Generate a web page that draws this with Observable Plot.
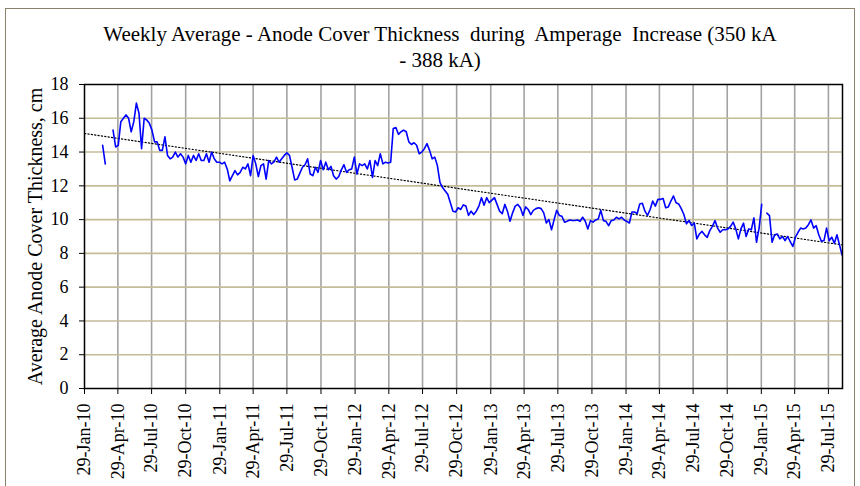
<!DOCTYPE html>
<html>
<head>
<meta charset="utf-8">
<script src="https://cdn.jsdelivr.net/npm/d3@7"></script>
<script src="https://cdn.jsdelivr.net/npm/@observablehq/plot@0.6"></script>
<style>
  body { margin: 0; background: #fff; }
  #wrap { position: relative; width: 860px; height: 486px; overflow: hidden; background: #fff; }
  #border { position: absolute; left: 5px; top: 8px; width: 850px; height: 520px; border: 1.5px solid #8a826c; box-sizing: border-box; pointer-events: none; }
  #title { position: relative; height: 70px; box-sizing: border-box; padding-top: 21px; padding-left: 20px;
           text-align: center; font-family: "Liberation Serif", "Times New Roman", serif; font-size: 21px;
           line-height: 26px; color: #000; white-space: pre; }
  #chart svg { display: block; }
</style>
</head>
<body>
<div id="wrap">
  <div id="border"></div>
  <div id="title">Weekly Average - Anode Cover Thickness  during  Amperage  Increase (350 kA
- 388 kA)</div>
  <div id="chart"></div>
</div>
<script>
// Weekly series start date (first weekly point) and values
const startDate = "2010-03-19";
const thickness = [
  14.4, 13.3, null, null, 15.3, 14.3, 14.4, 15.8, 16.0, 16.2,
  16.0, 15.2, 15.8, 16.9, 16.3, 14.2, 16.0, 15.9, 15.7, 15.3,
  14.6, 14.6, 14.1, 14.1, 14.9, 13.8, 13.6, 13.7, 14.0, 13.7,
  13.9, 13.7, 13.3, 13.8, 13.4, 13.8, 13.5, 13.9, 13.5, 13.5,
  13.9, 13.4, 14.0, 13.6, 13.4, 13.4, 13.3, 13.4, 13.0, 12.3,
  12.6, 12.9, 12.65, 12.8, 13.1, 13.0, 13.3, 12.6, 13.8, 13.3,
  12.55, 13.2, 13.3, 12.4, 13.5, 13.3, 13.4, 13.7, 13.4, 13.6,
  13.8, 13.95, 13.8, 13.1, 12.35, 12.4, 12.75, 13.1, 13.25, 13.6,
  12.7, 12.6, 13.1, 12.8, 13.5, 12.95, 13.4, 12.95, 13.15, 12.6,
  12.4, 12.55, 12.95, 13.25, 12.8, 12.95, 13.0, 13.7, 12.7, 13.3,
  13.2, 13.3, 13.0, 13.5, 12.5, 13.5, 13.2, 13.9, 13.3, 13.4,
  13.35, 13.4, 15.4, 15.45, 15.05, 15.2, 15.3, 15.2, 14.6, 14.45,
  14.55, 14.4, 13.9, 14.0, 14.2, 14.5, 14.1, 13.6, 13.7, 13.2,
  12.2, 11.9, 11.7, 11.5, 11.0, 10.5, 10.45, 10.7, 10.6, 10.87,
  10.8, 10.25, 10.5, 10.3, 10.5, 10.8, 11.3, 10.85, 11.3, 11.0,
  11.15, 11.3, 10.9, 10.5, 10.35, 10.9, 10.5, 9.9, 10.4, 10.8,
  10.9, 10.7, 10.25, 10.75, 10.6, 10.3, 10.55, 10.65, 10.7, 10.65,
  10.4, 9.8, 10.0, 9.4, 10.0, 10.55, 10.25, 10.2, 9.85, 9.9,
  9.98, 9.95, 9.95, 9.98, 9.9, 10.14, 9.9, 9.45, 9.94, 9.85,
  9.98, 10.04, 10.55, 9.94, 9.9, 9.64, 9.94, 9.98, 10.14, 10.04,
  10.14, 9.98, 9.9, 9.8, 10.45, 10.45, 10.35, 10.93, 10.97, 10.5,
  10.25, 10.6, 11.1, 10.8, 11.2, 11.2, 11.25, 10.7, 10.75, 11.1,
  11.4, 11.0, 10.93, 10.65, 10.3, 9.75, 9.95, 9.65, 9.8, 8.86,
  9.15, 9.3, 9.1, 8.95, 9.35, 9.6, 9.94, 9.5, 9.25, 9.4,
  9.4, 9.45, 9.6, 9.85, 9.45, 8.86, 9.45, 9.79, 9.0, 9.45,
  9.4, 10.1, 8.66, 9.5, 10.9, null, 10.38, 10.24, 8.66, 9.1,
  9.15, 8.86, 9.0, 8.76, 9.0, 8.7, 8.41, 8.96, 9.25, 9.5,
  9.45, 9.5, 9.7, 9.98, 9.5, 9.64, 9.1, 8.72, 8.76, 9.5,
  8.75, 8.96, 8.6, 9.1, 8.5, 7.9
];

// Linear trend line end points (dotted)
const trendDates = ["2010-01-29", "2015-09-05"];
const trendValues = [15.1, 8.5];

// Axis ticks
const xTickLabels = [
  "2010-01-29", "2010-04-29", "2010-07-29", "2010-10-29",
  "2011-01-29", "2011-04-29", "2011-07-29", "2011-10-29",
  "2012-01-29", "2012-04-29", "2012-07-29", "2012-10-29",
  "2013-01-29", "2013-04-29", "2013-07-29", "2013-10-29",
  "2014-01-29", "2014-04-29", "2014-07-29", "2014-10-29",
  "2015-01-29", "2015-04-29", "2015-07-29"
];
const xDomain = ["2010-01-29", "2015-09-05"];
const yTicks = [0, 2, 4, 6, 8, 10, 12, 14, 16, 18];
const yLabel = "Average Anode Cover Thickness, cm";

const t0 = new Date(startDate);
const data = thickness.map((v, i) => ({ date: d3.utcDay.offset(t0, 7 * i), value: v }));
const trend = trendDates.map((d, i) => ({ date: new Date(d), value: trendValues[i] }));
const xTicks = xTickLabels.map(d => new Date(d));

const chart = Plot.plot({
  width: 860,
  height: 416,
  marginLeft: 84,
  marginRight: 18,
  marginTop: 14,
  marginBottom: 98,
  style: { fontFamily: "'Liberation Serif', 'Times New Roman', serif", fontSize: "18px", color: "#000", background: "transparent", overflow: "visible" },
  x: {
    type: "utc",
    domain: xDomain.map(d => new Date(d)),
    ticks: xTicks,
    tickFormat: d3.utcFormat("%d-%b-%y"),
    tickRotate: -90,
    tickSize: 6,
    tickPadding: 9,
    label: null
  },
  y: {
    domain: [0, 18],
    ticks: yTicks,
    tickSize: 5,
    tickPadding: 11,
    label: null
  },
  marks: [
    Plot.ruleX(xTicks.slice(1), { stroke: "#a3a3a3", strokeWidth: 1.6 }),
    Plot.ruleY(yTicks.filter(d => d > 0 && d < 18), { stroke: "#c4bb98", strokeWidth: 1.6 }),
    Plot.line(trend, { x: "date", y: "value", stroke: "#000", strokeWidth: 1.2, strokeDasharray: "1.2,2.2" }),
    Plot.line(data, { x: "date", y: "value", stroke: "#0000ff", strokeWidth: 1.6 }),
    Plot.frame({ stroke: "#000", strokeWidth: 1.5 }),
    Plot.text([yLabel], {
      frameAnchor: "left", dx: -49, rotate: -90, textAnchor: "middle", fontSize: 20, text: d => d, fill: "#000"
    })
  ]
});
document.getElementById("chart").appendChild(chart);
</script>
</body>
</html>
